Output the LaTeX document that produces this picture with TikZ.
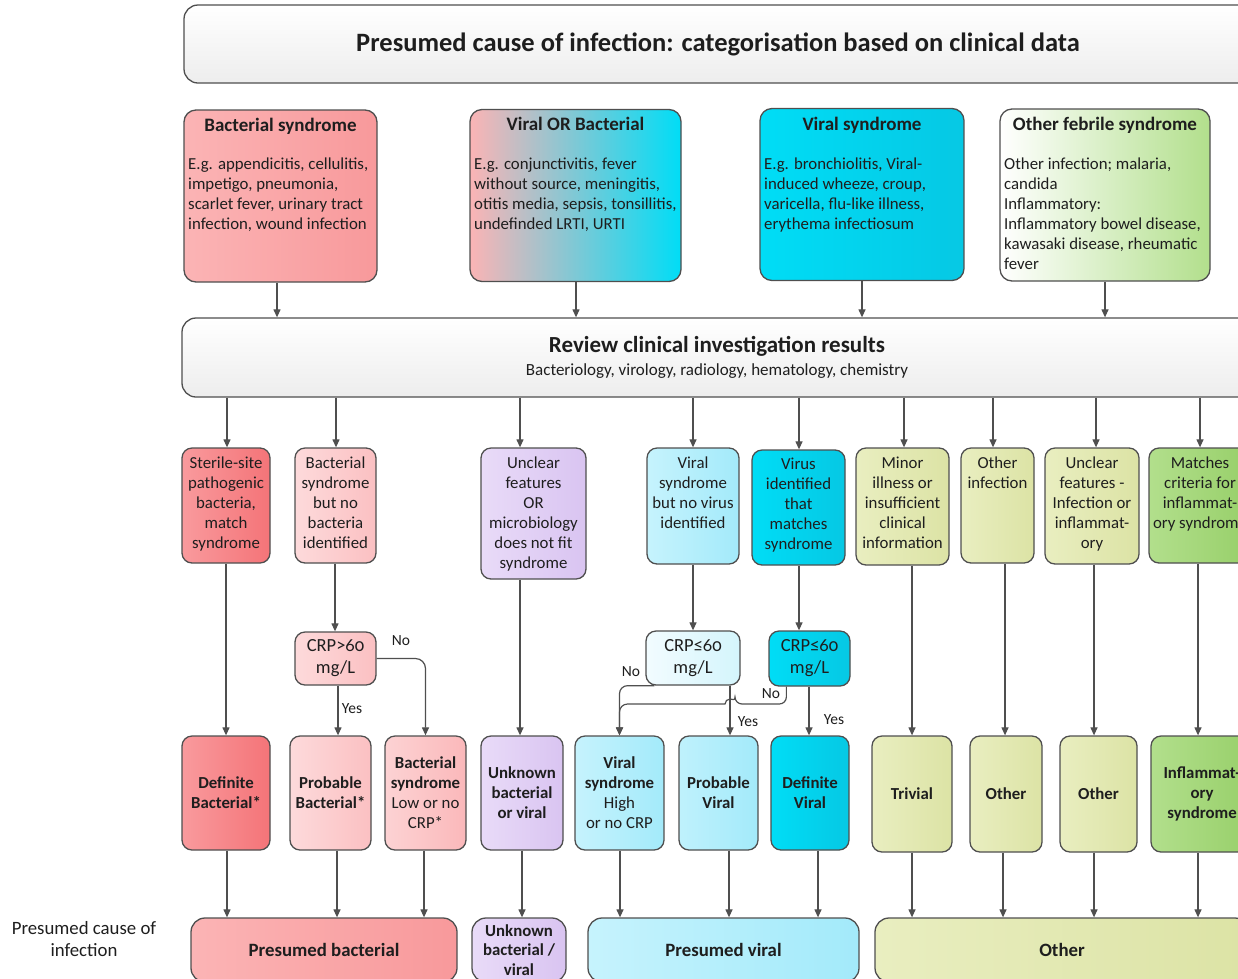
\documentclass[tikz,border=0pt]{standalone}
\usepackage{fontspec}
\setmainfont{Carlito}[Numbers=OldStyle]
\usetikzlibrary{arrows.meta}

\definecolor{linegray}{HTML}{4F4F4F}
\definecolor{inkgray}{HTML}{1E1E1E}
\definecolor{salA}{HTML}{FBB4B5}
\definecolor{salB}{HTML}{F8999B}
\definecolor{redA}{HTML}{F99A9D}
\definecolor{redB}{HTML}{F47478}
\definecolor{pinkA}{HTML}{FDDADB}
\definecolor{pinkB}{HTML}{FBC0C2}
\definecolor{lilA}{HTML}{E9DBF8}
\definecolor{lilB}{HTML}{D9C4F1}
\definecolor{skyA}{HTML}{C6F3FD}
\definecolor{skyB}{HTML}{A3EAFA}
\definecolor{cyanA}{HTML}{00DDF6}
\definecolor{cyanB}{HTML}{06C8E4}
\definecolor{iceA}{HTML}{F2FCFF}
\definecolor{iceB}{HTML}{D4F5FC}
\definecolor{oliA}{HTML}{E9EEC0}
\definecolor{oliB}{HTML}{DCE3A5}
\definecolor{grnA}{HTML}{B2DF8C}
\definecolor{grnB}{HTML}{97CF69}

\tikzset{
  box/.style={draw=linegray, line width=1.3pt, rounded corners=10pt, inner sep=0pt,
    align=center, text=inkgray},
  hdtxt/.style={font=\fontsize{19}{22}\selectfont\bfseries, inner sep=0pt, anchor=north,
    text=inkgray},
  bdtxt/.style={font=\fontsize{16.8}{20}\selectfont, inner sep=0pt, anchor=north west,
    align=left, text=inkgray},
  midtxt/.style={font=\fontsize{16.8}{20}\selectfont, inner sep=0pt, anchor=north,
    align=center, text=inkgray},
}

\begin{document}
\begin{tikzpicture}[x=1pt, y=-1pt]
  \useasboundingbox (0,0) rectangle (1238,978);
  \clip (0,0) rectangle (1238,978);

  % header and review
  \node[box, rounded corners=14pt, top color=white, bottom color=black!7,
    minimum width=1068pt, minimum height=78pt,
    font=\fontsize{26.5}{30}\selectfont\bfseries] (head) at (718,44)
    {Presumed cause of infection: categorisation based on clinical data};
  \node[box, rounded corners=14pt, top color=white, bottom color=black!7,
    minimum width=1070pt, minimum height=79pt,
    font=\fontsize{17}{23}\selectfont] (review) at (717,357.5)
    {{\fontsize{23}{23}\selectfont\bfseries Review clinical investigation results}\\
     Bacteriology, virology, radiology, hematology, chemistry};

  % syndromes
  \begin{scope}[every node/.style={box, rounded corners=12pt, minimum height=172pt}]
    \node[left color=salA, right color=salB, minimum width=193pt] (bact) at (280.5,196) {};
    \node[left color=salA, right color=cyanA, minimum width=211pt] (either) at (575.5,195.5) {};
    \node[left color=cyanA, right color=cyanB, minimum width=204pt] (viral) at (862,194.5) {};
    \node[left color=white, right color=grnA, minimum width=210pt] (febrile) at (1105,195) {};
  \end{scope}

  \begin{scope}[every node/.style={hdtxt}]
    \node (bact-h)    at (280.5,117.5) {Bacterial syndrome};
    \node (either-h)  at (575.5,116.5) {Viral OR Bacterial};
    \node (viral-h)   at (862,116.5)   {Viral syndrome};
    \node (febrile-h) at (1105,116.5)  {Other febrile syndrome};
  \end{scope}

  \begin{scope}[every node/.style={bdtxt}]
    \node (bact-b) at (188,157.5)
      {E.g. appendicitis, cellulitis,\\impetigo, pneumonia,\\scarlet fever, urinary tract\\infection, wound infection};
    \node (either-b) at (474,157.5)
      {E.g. conjunctivitis, fever\\without source, meningitis,\\otitis media, sepsis, tonsillitis,\\undefinded LRTI, URTI};
    \node (viral-b) at (764,157.5)
      {E.g. bronchiolitis, Viral-\\induced wheeze, croup,\\varicella, flu-like illness,\\erythema infectiosum};
    \node (febrile-b) at (1004,157.5)
      {Other infection; malaria,\\candida\\Inflammatory:\\Inflammatory bowel disease,\\kawasaki disease, rheumatic\\fever};
  \end{scope}

  % investigation results
  \begin{scope}[every node/.style={box, minimum height=115pt}]
    \node[left color=redA, right color=redB, minimum width=88pt] (sterile) at (226,505.5) {};
    \node[left color=pinkA, right color=pinkB, minimum width=81pt] (nobact) at (335.5,505.5) {};
    \node[left color=lilA, right color=lilB, minimum width=105pt, minimum height=131pt] (unclear) at (533.5,513.5) {};
    \node[left color=skyA, right color=skyB, minimum width=92pt, minimum height=116pt] (novirus) at (693,506) {};
    \node[left color=cyanA, right color=cyanB, minimum width=93pt] (virus) at (798.5,507.5) {};
    \node[left color=oliA, right color=oliB, minimum width=93pt, minimum height=117pt] (minor) at (902.5,506.5) {};
    \node[left color=oliA, right color=oliB, minimum width=73pt] (otherinf) at (997.5,505.5) {};
    \node[left color=oliA, right color=oliB, minimum width=94pt, minimum height=116pt] (infinfl) at (1092,506) {};
    \node[left color=grnA, right color=grnB, minimum width=102pt] (criteria) at (1200,505.5) {};
  \end{scope}

  \begin{scope}[every node/.style={midtxt}]
    \node (sterile-t)  at (226,456.5)    {Sterile-site\\pathogenic\\bacteria,\\match\\syndrome};
    \node (nobact-t)   at (335.5,456.5)  {Bacterial\\syndrome\\but no\\bacteria\\identified};
    \node (unclear-t)  at (533.5,456.5)  {Unclear\\features\\OR\\microbiology\\does not fit\\syndrome};
    \node (novirus-t)  at (693,456.5)    {Viral\\syndrome\\but no virus\\identified};
    \node (virus-t)    at (798.5,457.5)  {Virus\\identified\\that\\matches\\syndrome};
    \node (minor-t)    at (902.5,456.5)  {Minor\\illness or\\insufficient\\clinical\\information};
    \node (otherinf-t) at (997.5,456.5)  {Other\\infection};
    \node (infinfl-t)  at (1092,456.5)   {Unclear\\features -\\Infection or\\inflammat-\\ory};
    \node (criteria-t) at (1200,456.5)   {Matches\\criteria for\\inflammat-\\ory syndrome};
  \end{scope}

  % CRP checks
  \begin{scope}[every node/.style={box, font=\fontsize{18.5}{22}\selectfont}]
    \node[left color=pinkA, right color=pinkB, minimum width=81pt, minimum height=53pt] (crphi) at (335.5,658.5) {CRP>60\\mg/L};
    \node[left color=iceA, right color=iceB, minimum width=94pt, minimum height=54pt] (crplo) at (693,658) {CRP≤60\\mg/L};
    \node[left color=cyanA, right color=cyanB, minimum width=81pt, minimum height=55pt] (crpv) at (809.5,658.5) {CRP≤60\\mg/L};
  \end{scope}

  % categories
  \begin{scope}[every node/.style={box, minimum height=114pt, font=\fontsize{16.8}{20}\selectfont\bfseries}]
    \node[left color=redA, right color=redB, minimum width=88pt] (defbact) at (226,793) {Definite\\Bacterial*};
    \node[left color=pinkA, right color=pinkB, minimum width=81pt] (probbact) at (330.5,793) {Probable\\Bacterial*};
    \node[left color=pinkA!80!salA, right color=pinkB!80!salB, minimum width=81pt] (lowcrp) at (425.5,793)
      {Bacterial\\syndrome\\\mdseries Low or no\\\mdseries CRP*};
    \node[left color=lilA, right color=lilB, minimum width=82pt] (unknown) at (522,793) {Unknown\\bacterial\\or viral};
    \node[left color=skyA, right color=skyB, minimum width=89pt] (highcrp) at (619.5,793)
      {Viral\\syndrome\\\mdseries High\\\mdseries or no CRP};
    \node[left color=skyA!80!skyB, right color=skyB, minimum width=79pt] (probvir) at (718.5,793) {Probable\\Viral};
    \node[left color=cyanA, right color=cyanB, minimum width=78pt] (defvir) at (810,793) {Definite\\Viral};
    \node[left color=oliA, right color=oliB, minimum width=80pt, minimum height=116pt] (trivial) at (912,794) {Trivial};
    \node[left color=oliA, right color=oliB, minimum width=72pt, minimum height=116pt] (other1) at (1006,794) {Other};
    \node[left color=oliA, right color=oliB, minimum width=77pt, minimum height=116pt] (other2) at (1098.5,794) {Other};
    \node[left color=grnA, right color=grnB, minimum width=102pt, minimum height=116pt] (inflam) at (1202,794)
      {Inflammat-\\ory\\syndrome};
  \end{scope}

  % presumed cause
  \begin{scope}[every node/.style={box, rounded corners=14pt, minimum height=64pt, font=\fontsize{18.8}{20}\selectfont\bfseries}]
    \node[left color=salA, right color=salB, minimum width=266pt] (pbact) at (324,950) {Presumed bacterial};
    \node[left color=lilA, right color=lilB, minimum width=94pt, font=\fontsize{16.8}{19.5}\selectfont\bfseries] (punk) at (519,950)
      {Unknown\\bacterial /\\viral};
    \node[left color=skyA, right color=skyB, minimum width=271pt] (pvir) at (723.5,950) {Presumed viral};
    \node[left color=oliA, right color=oliB, minimum width=374pt] (pother) at (1062,950) {Other};
  \end{scope}

  \node[font=\fontsize{18.8}{22}\selectfont, align=center, text=inkgray] (cause) at (84,939) {Presumed cause of\\infection};

  % connectors
  \begin{scope}[every edge/.style={draw=linegray, line width=1.2pt, -{Triangle[length=8pt,width=7pt]}}]
    \path (bact.south -| 277,0)    edge (review.north -| 277,0);
    \path (either.south -| 576,0)  edge (review.north -| 576,0);
    \path (viral.south -| 862,0)   edge (review.north -| 862,0);
    \path (febrile.south -| 1105,0) edge (review.north -| 1105,0);

    \path (review.south -| 227,0)  edge (sterile.north -| 227,0);
    \path (review.south -| 336,0)  edge (nobact.north -| 336,0);
    \path (review.south -| 520,0)  edge (unclear.north -| 520,0);
    \path (review.south -| 693,0)  edge (novirus.north -| 693,0);
    \path (review.south -| 799,0)  edge (virus.north -| 799,0);
    \path (review.south -| 904,0)  edge (minor.north -| 904,0);
    \path (review.south -| 993,0)  edge (otherinf.north -| 993,0);
    \path (review.south -| 1096,0) edge (infinfl.north -| 1096,0);
    \path (review.south -| 1200,0) edge (criteria.north -| 1200,0);

    \path (sterile.south -| 226,0)  edge (defbact.north -| 226,0);
    \path (nobact.south -| 335,0)   edge (crphi.north -| 335,0);
    \path (crphi.south -| 338,0)    edge (probbact.north -| 338,0);
    \path (unclear.south -| 520,0)  edge (unknown.north -| 520,0);
    \path (novirus.south -| 693,0)  edge (crplo.north -| 693,0);
    \path (virus.south -| 799,0)    edge (crpv.north -| 799,0);
    \path (crplo.south -| 730,0)    edge (probvir.north -| 730,0);
    \path (crpv.south -| 809,0)     edge (defvir.north -| 809,0);
    \path (minor.south -| 912,0)    edge (trivial.north -| 912,0);
    \path (otherinf.south -| 1005,0) edge (other1.north -| 1005,0);
    \path (infinfl.south -| 1094,0) edge (other2.north -| 1094,0);
    \path (criteria.south -| 1198,0) edge (inflam.north -| 1198,0);

    \path (defbact.south -| 227,0)  edge (pbact.north -| 227,0);
    \path (probbact.south -| 337,0) edge (pbact.north -| 337,0);
    \path (lowcrp.south -| 424,0)   edge (pbact.north -| 424,0);
    \path (unknown.south -| 522,0)  edge (punk.north -| 522,0);
    \path (highcrp.south -| 620,0)  edge (pvir.north -| 620,0);
    \path (probvir.south -| 729,0)  edge (pvir.north -| 729,0);
    \path (defvir.south -| 818,0)   edge (pvir.north -| 818,0);
    \path (trivial.south -| 912,0)  edge (pother.north -| 912,0);
    \path (other1.south -| 1003,0)  edge (pother.north -| 1003,0);
    \path (other2.south -| 1094,0)  edge (pother.north -| 1094,0);
    \path (inflam.south -| 1198,0)  edge (pother.north -| 1198,0);
  \end{scope}

  % no branches
  \draw[draw=linegray, line width=1.2pt, rounded corners=10pt, -{Triangle[length=8pt,width=7pt]}]
    (crphi.east) -| (lowcrp.north);
  \draw[draw=linegray, line width=1.2pt, rounded corners=8pt, -{Triangle[length=8pt,width=7pt]}]
    ([xshift=9pt]crplo.south west) -| (highcrp.north);
  \draw[draw=linegray, line width=1.2pt, rounded corners=7pt, -{Triangle[length=8pt,width=7pt]}]
    ([xshift=18pt]crpv.south west) |- (735,704)
    [sharp corners] arc[start angle=0, end angle=180, radius=5pt]
    [rounded corners=8pt] -| (highcrp.north);

  \begin{scope}[every node/.style={font=\fontsize{15.5}{18}\selectfont, inner sep=0pt, text=inkgray}]
    \node (hi-no)  at (401,641) {No};
    \node (hi-yes) at (352,709) {Yes};
    \node (lo-no)  at (631,672) {No};
    \node (lo-yes) at (748,722) {Yes};
    \node (v-no)   at (771,694) {No};
    \node (v-yes)  at (834,720) {Yes};
  \end{scope}

\end{tikzpicture}
\end{document}
